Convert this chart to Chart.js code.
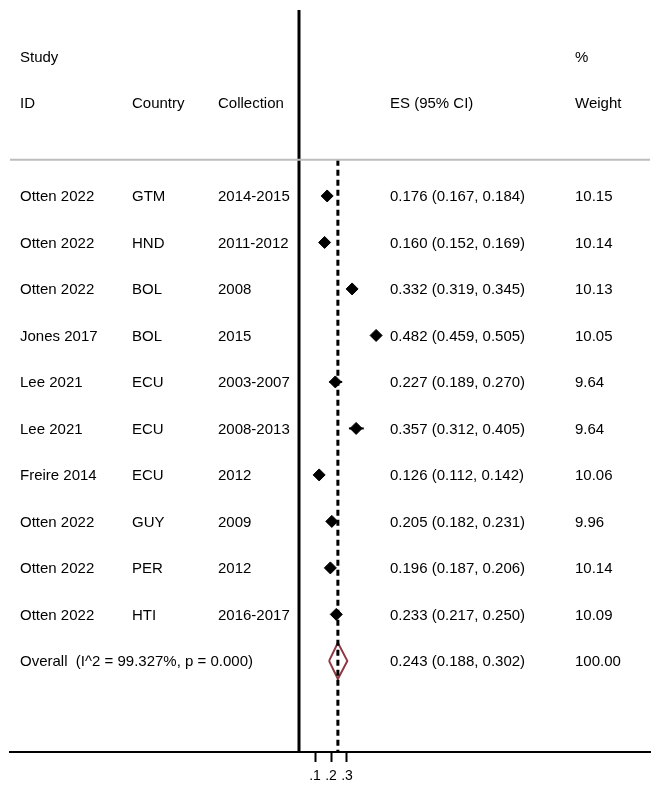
<!DOCTYPE html>
<html>
<head>
<meta charset="utf-8">
<script src="https://cdn.jsdelivr.net/npm/chart.js@4"></script>
<style>
  html, body { margin: 0; padding: 0; background: #fff; }
  #wrap { width: 652px; height: 788px; }
</style>
</head>
<body>
<div id="wrap"><canvas id="forest"></canvas></div>
<script>
// Study rows.
const studies = ["Otten 2022", "Otten 2022", "Otten 2022", "Jones 2017", "Lee 2021",
                 "Lee 2021", "Freire 2014", "Otten 2022", "Otten 2022", "Otten 2022"];
const countries = ["GTM", "HND", "BOL", "BOL", "ECU", "ECU", "ECU", "GUY", "PER", "HTI"];
const collections = ["2014-2015", "2011-2012", "2008", "2015", "2003-2007",
                     "2008-2013", "2012", "2009", "2012", "2016-2017"];
const es = [0.176, 0.160, 0.332, 0.482, 0.227, 0.357, 0.126, 0.205, 0.196, 0.233];
const ciLow = [0.167, 0.152, 0.319, 0.459, 0.189, 0.312, 0.112, 0.182, 0.187, 0.217];
const ciHigh = [0.184, 0.169, 0.345, 0.505, 0.270, 0.405, 0.142, 0.231, 0.206, 0.250];
const weights = ["10.15", "10.14", "10.13", "10.05", "9.64", "9.64", "10.06", "9.96", "10.14", "10.09"];

const overallLabel = "Overall  (I^2 = 99.327%, p = 0.000)";
const overallEs = 0.243;
const overallLow = 0.188;
const overallHigh = 0.302;
const overallWeight = "100.00";

const xTickValues = [0.1, 0.2, 0.3];
const xTickLabels = [".1", ".2", ".3"];

// row layout: header rows sit above row 0, overall row goes after the studies
const overallRow = studies.length;
const yTop = -4, yBottom = 11.96;
const sepRow = -0.78;
const diamondHalf = 0.39;

// x range chosen so the axis spans the full width with 0 at the null line
const xMin = -1.80625, xMax = 2.19375;

const fmt = v => v.toFixed(3);

const datasets = [];

// separator under the header
datasets.push({
  data: [{x: xMin, y: sepRow}, {x: xMax, y: sepRow}],
  showLine: true, borderColor: "#bdbdbd", borderWidth: 2, pointRadius: 0
});
// null line at 0
datasets.push({
  data: [{x: 0, y: yTop}, {x: 0, y: yBottom}],
  showLine: true, borderColor: "#000", borderWidth: 3, pointRadius: 0
});
// dashed overall line
datasets.push({
  data: [{x: overallEs, y: sepRow}, {x: overallEs, y: yBottom}],
  showLine: true, borderColor: "#000", borderWidth: 3, borderDash: [6, 4], pointRadius: 0
});
// confidence intervals
es.forEach((v, i) => {
  datasets.push({
    data: [{x: ciLow[i], y: i}, {x: ciHigh[i], y: i}],
    showLine: true, borderColor: "#000", borderWidth: 2, pointRadius: 0
  });
});
// point estimates
datasets.push({
  data: es.map((v, i) => ({x: v, y: i})),
  pointStyle: "rectRot", pointRadius: 6, pointBackgroundColor: "#000",
  pointBorderColor: "#000", pointBorderWidth: 1, showLine: false
});
// overall diamond
datasets.push({
  data: [
    {x: overallLow, y: overallRow},
    {x: overallEs, y: overallRow - diamondHalf},
    {x: overallHigh, y: overallRow},
    {x: overallEs, y: overallRow + diamondHalf},
    {x: overallLow, y: overallRow}
  ],
  showLine: true, borderColor: "#8f3844", borderWidth: 2, pointRadius: 0, tension: 0
});

const FONT = '15px "Liberation Sans", Arial, Helvetica, sans-serif';

const tablePlugin = {
  id: "tableText",
  afterDraw(chart) {
    const ctx = chart.ctx;
    const y = chart.scales.y;
    ctx.save();
    ctx.font = FONT;
    ctx.fillStyle = "#000";
    ctx.textBaseline = "middle";
    ctx.textAlign = "left";
    const put = (txt, x, row) => ctx.fillText(txt, x, y.getPixelForValue(row) + 1);

    put("Study", 20, -3);
    put("%", 575, -3);
    put("ID", 20, -2);
    put("Country", 132, -2);
    put("Collection", 218, -2);
    put("ES (95% CI)", 390, -2);
    put("Weight", 575, -2);

    studies.forEach((s, i) => {
      put(s, 20, i);
      put(countries[i], 132, i);
      put(collections[i], 218, i);
      put(fmt(es[i]) + " (" + fmt(ciLow[i]) + ", " + fmt(ciHigh[i]) + ")", 390, i);
      put(weights[i], 575, i);
    });

    put(overallLabel, 20, overallRow);
    put(fmt(overallEs) + " (" + fmt(overallLow) + ", " + fmt(overallHigh) + ")", 390, overallRow);
    put(overallWeight, 575, overallRow);
    ctx.restore();
  }
};

new Chart(document.getElementById("forest"), {
  type: "scatter",
  data: { datasets: datasets },
  options: {
    responsive: true,
    maintainAspectRatio: false,
    animation: false,
    clip: false,
    layout: { autoPadding: false, padding: { left: 10, right: 2, top: 10, bottom: 0 } },
    plugins: { legend: { display: false }, tooltip: { enabled: false } },
    elements: { line: { tension: 0 } },
    scales: {
      x: {
        type: "linear",
        min: xMin,
        max: xMax,
        afterBuildTicks: s => { s.ticks = xTickValues.map(v => ({ value: v })); },
        afterFit: s => { s.height = 36; },
        ticks: {
          autoSkip: false,
          maxRotation: 0,
          padding: 6,
          color: "#000",
          font: { family: '"Liberation Sans", Arial, sans-serif', size: 14 },
          callback: v => {
            const k = xTickValues.findIndex(t => Math.abs(t - v) < 1e-9);
            return k >= 0 ? xTickLabels[k] : "";
          }
        },
        grid: {
          drawOnChartArea: false,
          drawTicks: true,
          tickLength: 10,
          tickColor: "#000",
          tickWidth: 2
        },
        border: { display: true, color: "#000", width: 2 }
      },
      y: {
        type: "linear",
        min: yTop,
        max: yBottom,
        reverse: true,
        display: false
      }
    }
  },
  plugins: [tablePlugin]
});
</script>
</body>
</html>
